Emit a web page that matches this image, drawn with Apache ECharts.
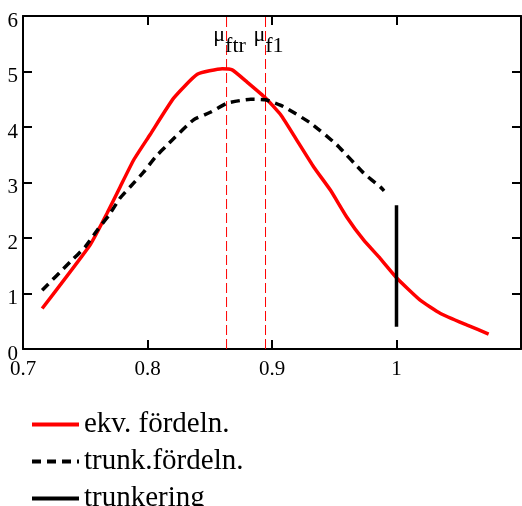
<!DOCTYPE html>
<html><head><meta charset="utf-8">
<script src="https://cdn.jsdelivr.net/npm/echarts@6/dist/echarts.min.js"></script>
<style>html,body{margin:0;padding:0;background:#fff}#c{width:522px;height:506px}</style>
</head><body><div id="c"></div>
<script>
const seriesNames = ['ekv. fördeln.', 'trunk.fördeln.', 'trunkering'];
const ekvX = [0.7154,0.754,0.7676,0.778,0.789,0.802,0.821,0.840,0.860,0.868,0.880,0.895,0.907,0.920,0.9335,0.947,0.960,0.9737,0.987,1.0006,1.019,1.0353,1.0568,1.074];
const ekvY = [0.73,1.88,2.45,2.92,3.41,3.86,4.52,4.95,5.05,5.03,4.81,4.52,4.22,3.76,3.28,2.86,2.38,1.96,1.63,1.27,0.88,0.64,0.43,0.27];
const trunkX = [0.7154,0.738,0.750,0.7596,0.769,0.778,0.786,0.797,0.806,0.816,0.837,0.851,0.864,0.883,0.895,0.909,0.931,0.952,0.9736,0.987,0.990];
const trunkY = [1.06,1.57,1.84,2.14,2.41,2.72,2.92,3.19,3.45,3.68,4.13,4.27,4.43,4.50,4.49,4.37,4.07,3.68,3.17,2.92,2.85];
const truncX = [1, 1];
const truncY = [0.4, 2.59];
const muSubs = ['ftr', 'f1'];
const muValues = [0.8635, 0.8948];
const muLabelY = 5.55;
const yRange = [0, 6];
const xTickValues = [0.7, 0.8, 0.9, 1.0];
const xTickLabels = ['0.7', '0.8', '0.9', '1'];
const yTickLabels = ['0', '1', '2', '3', '4', '5', '6'];

const FONT = 'Liberation Serif';
const zip = (a, b) => a.map((v, i) => [v, b[i]]);

const axisCommon = {
  axisLine: { show: true, onZero: false, lineStyle: { color: '#000', width: 2 } },
  axisTick: { show: true, inside: true, length: 9, lineStyle: { color: '#000', width: 2 } },
  splitLine: { show: false }
};

const muSeries = muValues.map((v, i) => ({
  name: 'mu_' + muSubs[i], type: 'line', symbol: 'none', silent: true, z: 2,
  data: [[v, yRange[0]], [v, yRange[1]]],
  lineStyle: { color: '#ff0000', width: 1, type: [10, 4] },
  itemStyle: { color: '#ff0000' }
}));

const chart = echarts.init(document.getElementById('c'), null, { renderer: 'canvas' });
chart.setOption({
  animation: false,
  backgroundColor: '#fff',
  grid: { left: 23, right: 1, top: 16, bottom: 157, containLabel: false },
  xAxis: [
    Object.assign({}, axisCommon, {
      type: 'value', min: 0.7, max: 1.1, interval: 0.1, position: 'bottom',
      axisLabel: {
        show: true, margin: 10, color: '#000', fontFamily: FONT, fontSize: 21, showMaxLabel: false,
        formatter: v => { const i = xTickValues.findIndex(t => Math.abs(t - v) < 1e-9); return i >= 0 ? xTickLabels[i] : ''; }
      }
    }),
    Object.assign({}, axisCommon, {
      type: 'value', min: 0.7, max: 1.1, interval: 0.1, position: 'top',
      axisLabel: { show: false }
    })
  ],
  yAxis: [
    Object.assign({}, axisCommon, {
      type: 'value', min: yRange[0], max: yRange[1], interval: 1, position: 'left',
      axisLabel: { show: true, margin: 5, color: '#000', fontFamily: FONT, fontSize: 21,
        verticalAlign: 'top', lineHeight: 10,
        formatter: v => yTickLabels[Math.round(v)] }
    }),
    Object.assign({}, axisCommon, {
      type: 'value', min: yRange[0], max: yRange[1], interval: 1, position: 'right',
      axisLabel: { show: false }
    })
  ],
  legend: {
    data: seriesNames,
    orient: 'vertical',
    left: 25, top: 405, height: 200,
    itemWidth: 47, itemHeight: 14, itemGap: 8,
    itemStyle: { opacity: 0 },
    lineStyle: { width: 4 },
    textStyle: { color: '#000', fontFamily: FONT, fontSize: 29, lineHeight: 28 },
    selectedMode: false
  },
  series: muSeries.concat([
    {
      name: seriesNames[0], type: 'line', data: zip(ekvX, ekvY), symbol: 'none', smooth: 0.15,
      lineStyle: { color: '#ff0000', width: 3.5 }, itemStyle: { color: '#ff0000' }, z: 3,
      markPoint: {
        silent: true, symbol: 'circle', symbolSize: 0, animation: false, precision: 5,
        data: muValues.map((v, i) => ({
          coord: [v, muLabelY],
          label: {
            show: true, position: 'inside', offset: [3, 0],
            formatter: '{a|μ}{b|' + muSubs[i] + '}',
            rich: {
              a: { fontFamily: FONT, fontSize: 22, color: '#000', lineHeight: 22, verticalAlign: 'top' },
              b: { fontFamily: FONT, fontSize: 22, color: '#000', lineHeight: 33, verticalAlign: 'bottom' }
            }
          }
        }))
      }
    },
    {
      name: seriesNames[1], type: 'line', data: zip(trunkX, trunkY), symbol: 'none', smooth: 0.15,
      lineStyle: { color: '#000', width: 3.5, type: [9, 6] }, itemStyle: { color: '#000' }, z: 3
    },
    {
      name: seriesNames[2], type: 'line', data: zip(truncX, truncY), symbol: 'none',
      lineStyle: { color: '#000', width: 3.5 }, itemStyle: { color: '#000' }, z: 4
    }
  ])
});
</script>
</body></html>
